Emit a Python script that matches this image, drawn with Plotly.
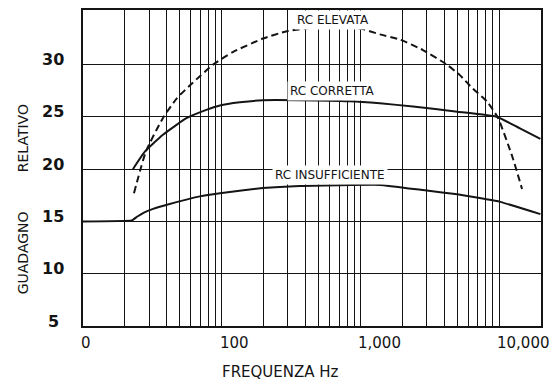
import math
import plotly.graph_objects as go

# ---- data ----
freq_elevata = [23.3, 28.4, 37.7, 47.6, 61, 86.5, 120, 198, 295, 434, 750, 1040, 1380, 1930, 2820, 4200, 5200, 6460, 8140, 9800, 12500, 14600]
gain_elevata = [17.7, 21.7, 24.9, 26.8, 28.2, 30.0, 31.2, 32.5, 33.2, 33.5, 33.6, 33.4, 32.9, 32.4, 31.4, 30.0, 29.0, 27.7, 26.5, 24.9, 21.1, 18.1]

freq_corretta = [22.9, 28.0, 37.7, 56.1, 78.3, 97, 135, 198, 366, 836, 1380, 2390, 4990, 9670, 14100, 19800]
gain_corretta = [20.0, 21.7, 23.3, 24.9, 25.7, 26.1, 26.4, 26.6, 26.6, 26.5, 26.3, 26.0, 25.5, 25.0, 23.9, 22.9]

freq_insuff = [10, 22.5, 24.5, 27.5, 32, 40.3, 69.6, 97, 198, 366, 1380, 2820, 4990, 10000, 19800]
gain_insuff = [15.0, 15.1, 15.45, 15.85, 16.2, 16.6, 17.4, 17.7, 18.2, 18.4, 18.5, 18.0, 17.6, 16.9, 15.7]

x_label_vals = [10, 100, 1000, 10000]
x_label_text = ["0", "100", "1,000", "10,000"]
y_label_vals = [5, 10, 15, 20, 25, 30]
x_grid_vals = [m * 10 ** k for k in (1, 2, 3) for m in range(1, 10)] + [10000]
y_grid_vals = [10, 15, 20, 25, 30]

curve_labels = ["RC ELEVATA", "RC CORRETTA", "RC INSUFFICIENTE"]
curve_label_pos = [(630, 34.3), (630, 27.5), (600, 19.4)]

INK = "#141414"
FONT = "DejaVu Sans"

fig = go.Figure()
fig.add_trace(go.Scatter(x=freq_elevata, y=gain_elevata, mode="lines",
                         line=dict(color=INK, width=2, dash="7px,4px", shape="spline", smoothing=0.5),
                         hoverinfo="skip"))
fig.add_trace(go.Scatter(x=freq_corretta, y=gain_corretta, mode="lines",
                         line=dict(color=INK, width=2, shape="spline", smoothing=0.5),
                         hoverinfo="skip"))
fig.add_trace(go.Scatter(x=freq_insuff, y=gain_insuff, mode="lines",
                         line=dict(color=INK, width=2, shape="spline", smoothing=0.3),
                         hoverinfo="skip"))

annotations = []
for (fx, gy), txt in zip(curve_label_pos, curve_labels):
    annotations.append(dict(x=math.log10(fx), y=gy, xref="x", yref="y", text=txt,
                            showarrow=False, bgcolor="white", borderpad=2,
                            font=dict(family=FONT, size=12, color=INK)))
for v, t in zip(x_label_vals, x_label_text):
    annotations.append(dict(x=math.log10(v), y=0, xref="x", yref="paper", text=t,
                            showarrow=False, xanchor="left", yanchor="middle",
                            xshift=-4, yshift=-17,
                            font=dict(family=FONT, size=15, color=INK)))
for v in y_label_vals:
    annotations.append(dict(x=0, y=v, xref="paper", yref="y", text=str(v),
                            showarrow=False, xanchor="center", yanchor="middle",
                            xshift=-30, yshift=5,
                            font=dict(family=FONT, size=16, color=INK, weight="bold")))
annotations.append(dict(x=0.432, y=-0.145, xref="paper", yref="paper", text="FREQUENZA Hz",
                        showarrow=False, xanchor="center", yanchor="middle",
                        font=dict(family=FONT, size=15, color=INK)))
annotations.append(dict(x=-0.131, y=0.230, xref="paper", yref="paper", text="GUADAGNO",
                        showarrow=False, textangle=-90, xanchor="center", yanchor="middle",
                        font=dict(family=FONT, size=14, color=INK)))
annotations.append(dict(x=-0.131, y=0.594, xref="paper", yref="paper", text="RELATIVO",
                        showarrow=False, textangle=-90, xanchor="center", yanchor="middle",
                        font=dict(family=FONT, size=14, color=INK)))

fig.update_layout(
    width=560, height=384,
    margin=dict(l=83, r=19, t=8, b=58),
    paper_bgcolor="white", plot_bgcolor="white",
    showlegend=False,
    annotations=annotations,
    xaxis=dict(type="log", range=[1, math.log10(20000)], tickvals=x_grid_vals,
               showticklabels=False, ticks="", showgrid=True, gridcolor=INK, gridwidth=1,
               showline=True, linecolor=INK, linewidth=1.5, mirror=True, zeroline=False),
    yaxis=dict(range=[5, 35.23], tickvals=y_grid_vals, showticklabels=False, ticks="",
               showgrid=True, gridcolor=INK, gridwidth=1,
               showline=True, linecolor=INK, linewidth=1.5, mirror=True, zeroline=False),
)

fig.write_html("out.html", config={"displayModeBar": False},
               post_script="document.body.style.margin='0';")
